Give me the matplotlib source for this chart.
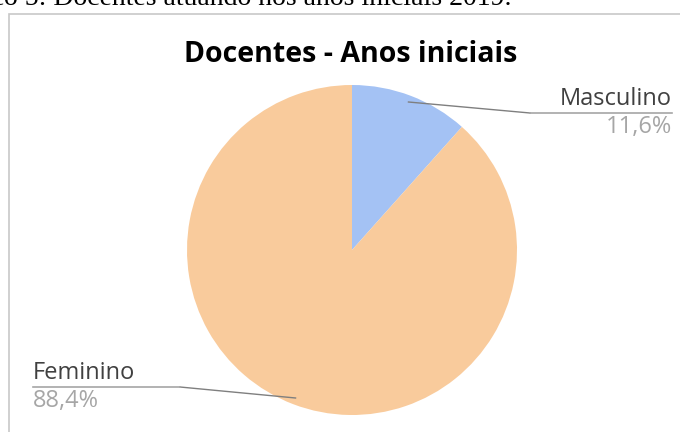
import numpy as np
import matplotlib.pyplot as plt
from matplotlib.patches import Rectangle

# Docentes atuando nos anos iniciais (2019)
categorias = ["Masculino", "Feminino"]
percentuais = [11.6, 88.4]
rotulos = ["11,6%", "88,4%"]
cores = ["#a4c2f4", "#f9cb9c"]

W, H = 680, 432
fig = plt.figure(figsize=(W / 100, H / 100), dpi=100)
ax = fig.add_axes([0, 0, 1, 1])
ax.set_xlim(0, W)
ax.set_ylim(0, H)
ax.axis("off")

# moldura do gráfico
ax.add_patch(Rectangle((9, -20), W + 20, H - 14 + 20, fill=False,
                       edgecolor="#c8c8c8", linewidth=1.2))

# legenda da figura (cortada no topo): "Docentes" começa em x ~ 53
legenda = "Gráfico 5: Docentes atuando nos anos iniciais 2019."
fonte_leg = dict(fontsize=20, family="Liberation Serif", color="black")
renderer = fig.canvas.get_renderer()
tmp = ax.text(0, 0, "Gráfico 5: ", **fonte_leg)
prefixo = tmp.get_window_extent(renderer).width
tmp.remove()
ax.text(53 - prefixo, H - 5, legenda, ha="left", va="baseline", **fonte_leg)

ax.text(351, H - 55, "Docentes - Anos iniciais", ha="center", va="center",
        fontsize=20.5, fontweight="bold", family="Open Sans", color="black")

cx, cy, r = 352, H - 250, 165
wedges, _ = ax.pie(percentuais, colors=cores, startangle=90,
                   counterclock=False, center=(cx, cy), radius=r,
                   wedgeprops=dict(linewidth=0))
ax.set_xlim(0, W)
ax.set_ylim(0, H)

# linhas de chamada e rótulos
for i, w in enumerate(wedges):
    ang = np.deg2rad((w.theta1 + w.theta2) / 2)
    px, py = cx + 0.96 * r * np.cos(ang), cy + 0.96 * r * np.sin(ang)
    if np.cos(ang) > 0:
        ex, ey, tx, ha = 530, H - 113, 672, "right"
    else:
        ex, ey, tx, ha = 180, H - 387, 33, "left"
    ax.text(tx, ey + 2, categorias[i], ha=ha, va="bottom",
            fontsize=17, family="Open Sans", color="#404040")
    ax.text(tx, ey - 2, rotulos[i], ha=ha, va="top",
            fontsize=17, family="Open Sans", color="#a6a6a6")
    ax.plot([px, ex], [py, ey], color="#7f7f7f", linewidth=1)
    ax.plot([ex, tx], [ey, ey], color="#a6a6a6", linewidth=1.2)

fig.savefig("out.png", dpi=100)
